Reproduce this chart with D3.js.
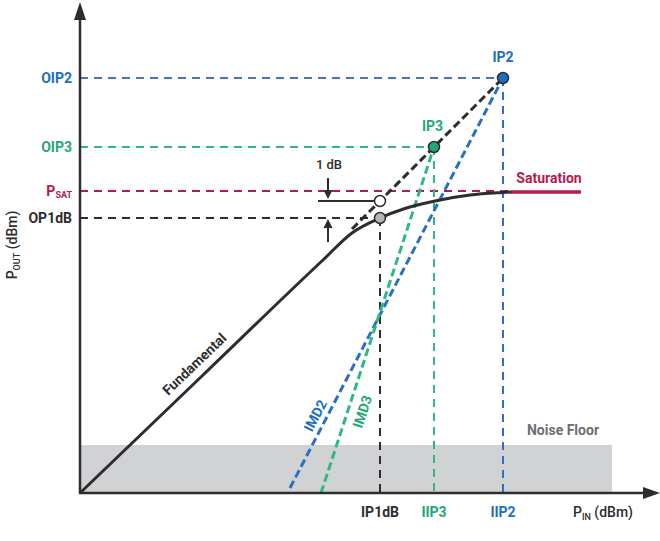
<!DOCTYPE html>
<html>
<head>
<meta charset="utf-8">
<script src="https://cdn.jsdelivr.net/npm/d3@7"></script>
<style>
  body { margin: 0; background: #fff; }
  svg { display: block; font-family: Roboto, "Liberation Sans", sans-serif; }
</style>
</head>
<body>
<div id="chart"></div>
<script>
// Values are relative dB (origin = lower left corner)
var fundamental = [[0, 0], [12.2, 11.7], [24.3, 23.3], [27.2, 26.0], [30.0, 27.5], [32.5, 28.45],
                   [35.5, 29.2], [39.0, 29.8], [42.3, 30.05], [43.2, 30.1]];
var saturation = [[43.1, 30.1], [50.1, 30.1]];
var gainExtension = [[27.2, 26.4], [42.3, 41.5]];
var imd2 = [[21.0, 0.5], [42.3, 41.5]];
var imd3 = [[24.1, 0.0], [35.4, 34.6]];
var noiseFloor = [0, 53.2, 4.8];          // from, to, level

var yTickNames = ["OIP2", "OIP3", "P|SAT", "OP1dB"];
var yTickValues = [41.5, 34.6, 30.2, 27.5];
var yTickEnds = [42.3, 35.4, 43.1, 30.0];  // where the dashed level line stops
var xTickNames = ["IP1dB", "IIP3", "IIP2"];
var xTickValues = [30.0, 35.4, 42.3];
var xTickTops = [27.5, 34.6, 41.5];

var intercepts = [{name: "IP2", x: 42.3, y: 41.5}, {name: "IP3", x: 35.4, y: 34.6}];
var p1dB = {x: 30.0, linear: 29.2, compressed: 27.5};

var dark = "#2d2d2f", blue = "#1a6fc0", blueLine = "#2a70c4", blueLevel = "#4a74c2",
    green = "#1ea878", greenLine = "#2db886", red = "#b21b4b", grey = "#6d6e71";
var tickColors = [blue, green, red, dark];
var tickLineColors = [blueLevel, greenLine, red, dark];
var xTickColors = [dark, green, blue];
var xTickLineColors = [dark, greenLine, blueLine];

var width = 660, height = 541;
var x = d3.scaleLinear().domain([0, 58]).range([80, 660]);
var y = d3.scaleLinear().domain([0, 49]).range([493, 3]);
var line = d3.line().x(function (d) { return x(d[0]); }).y(function (d) { return y(d[1]); });

var svg = d3.select("#chart").append("svg")
    .attr("width", width)
    .attr("height", height);

// Noise floor
svg.append("rect")
    .attr("x", x(noiseFloor[0]))
    .attr("y", y(noiseFloor[2]))
    .attr("width", x(noiseFloor[1]) - x(noiseFloor[0]))
    .attr("height", y(0) - y(noiseFloor[2]))
    .attr("fill", "#d1d2d4");
svg.append("text")
    .attr("x", x(48.3)).attr("y", y(6.3))
    .attr("text-anchor", "middle")
    .attr("dominant-baseline", "central")
    .attr("font-size", 14).attr("font-weight", 700)
    .attr("fill", grey)
    .text("Noise Floor");

// Level lines (horizontal) and input lines (vertical)
yTickValues.forEach(function (v, i) {
    svg.append("line")
        .attr("x1", x(0)).attr("x2", x(yTickEnds[i]))
        .attr("y1", y(v)).attr("y2", y(v))
        .attr("stroke", tickLineColors[i]).attr("stroke-width", 2)
        .attr("stroke-dasharray", "8,6");
});
xTickValues.forEach(function (v, i) {
    svg.append("line")
        .attr("x1", x(v)).attr("x2", x(v))
        .attr("y1", y(xTickTops[i])).attr("y2", y(0))
        .attr("stroke", xTickLineColors[i]).attr("stroke-width", 2)
        .attr("stroke-dasharray", "8,6");
});

// Intermod products and extrapolated gain
svg.append("path").datum(imd2).attr("d", line)
    .attr("fill", "none").attr("stroke", blueLine).attr("stroke-width", 3)
    .attr("stroke-dasharray", "8,4");
svg.append("path").datum(imd3).attr("d", line)
    .attr("fill", "none").attr("stroke", greenLine).attr("stroke-width", 3)
    .attr("stroke-dasharray", "8,4");
svg.append("path").datum(gainExtension).attr("d", line)
    .attr("fill", "none").attr("stroke", dark).attr("stroke-width", 3)
    .attr("stroke-dasharray", "8,4");

// Fundamental and saturation
svg.append("path").datum(fundamental).attr("d", line.curve(d3.curveMonotoneX))
    .attr("fill", "none").attr("stroke", dark).attr("stroke-width", 3);
line.curve(d3.curveLinear);
svg.append("path").datum(saturation).attr("d", line)
    .attr("fill", "none").attr("stroke", red).attr("stroke-width", 3.5);

// Axes with arrow heads
svg.append("line")
    .attr("x1", x(0)).attr("x2", x(0)).attr("y1", y(0) + 1).attr("y2", y(47.3))
    .attr("stroke", dark).attr("stroke-width", 2.5);
svg.append("line")
    .attr("x1", x(0) - 1).attr("x2", x(56.4)).attr("y1", y(0)).attr("y2", y(0))
    .attr("stroke", dark).attr("stroke-width", 2.5);
svg.append("path")
    .attr("d", "M" + x(0) + "," + (y(49) - 1) + "L" + (x(0) + 6) + "," + (y(49) + 17) +
               "L" + (x(0) - 6) + "," + (y(49) + 17) + "Z")
    .attr("fill", dark);
svg.append("path")
    .attr("d", "M" + x(58) + "," + y(0) + "L" + (x(58) - 17) + "," + (y(0) - 6) +
               "L" + (x(58) - 17) + "," + (y(0) + 6) + "Z")
    .attr("fill", dark);

// 1 dB compression marker
var ax = x(24.8);
svg.append("line")
    .attr("x1", x(23.8)).attr("x2", x(p1dB.x)).attr("y1", y(p1dB.linear)).attr("y2", y(p1dB.linear))
    .attr("stroke", dark).attr("stroke-width", 2);
svg.append("line")
    .attr("x1", ax).attr("x2", ax).attr("y1", y(p1dB.linear) - 23).attr("y2", y(p1dB.linear) - 8)
    .attr("stroke", dark).attr("stroke-width", 2);
svg.append("path")
    .attr("d", "M" + ax + "," + (y(p1dB.linear) - 2) + "L" + (ax - 4.5) + "," + (y(p1dB.linear) - 11) +
               "L" + (ax + 4.5) + "," + (y(p1dB.linear) - 11) + "Z")
    .attr("fill", dark);
svg.append("line")
    .attr("x1", ax).attr("x2", ax).attr("y1", y(p1dB.compressed) + 8).attr("y2", y(p1dB.compressed) + 24)
    .attr("stroke", dark).attr("stroke-width", 2);
svg.append("path")
    .attr("d", "M" + ax + "," + (y(p1dB.compressed) + 1) + "L" + (ax - 4.5) + "," + (y(p1dB.compressed) + 10) +
               "L" + (ax + 4.5) + "," + (y(p1dB.compressed) + 10) + "Z")
    .attr("fill", dark);
svg.append("text")
    .attr("x", ax + 1).attr("y", y(p1dB.linear) - 37)
    .attr("text-anchor", "middle").attr("dominant-baseline", "central")
    .attr("font-size", 13).attr("font-weight", 500).attr("fill", dark)
    .text("1 dB");

svg.append("circle")
    .attr("cx", x(p1dB.x)).attr("cy", y(p1dB.linear)).attr("r", 5.5)
    .attr("fill", "#fff").attr("stroke", dark).attr("stroke-width", 1.5);
svg.append("circle")
    .attr("cx", x(p1dB.x)).attr("cy", y(p1dB.compressed)).attr("r", 5.5)
    .attr("fill", "#b5b5b7").attr("stroke", dark).attr("stroke-width", 1.5);

// Intercept points
var ipFill = [blue, green], ipColor = [blue, green];
intercepts.forEach(function (d, i) {
    svg.append("circle")
        .attr("cx", x(d.x)).attr("cy", y(d.y)).attr("r", 5.5)
        .attr("fill", ipFill[i]).attr("stroke", dark).attr("stroke-width", 1.5);
    svg.append("text")
        .attr("x", x(d.x) - (i ? 1.5 : 0)).attr("y", y(d.y) - 21)
        .attr("text-anchor", "middle").attr("dominant-baseline", "central")
        .attr("font-size", 14).attr("font-weight", 700).attr("fill", ipColor[i])
        .text(d.name);
});

svg.append("text")
    .attr("x", x(46.9)).attr("y", y(31.5))
    .attr("text-anchor", "middle").attr("dominant-baseline", "central")
    .attr("font-size", 14).attr("font-weight", 700).attr("fill", red)
    .text("Saturation");

// Y tick labels
yTickNames.forEach(function (name, i) {
    var t = svg.append("text")
        .attr("x", x(0) - 8).attr("y", y(yTickValues[i]))
        .attr("text-anchor", "end").attr("dominant-baseline", "central")
        .attr("font-size", 14).attr("font-weight", 700).attr("fill", tickColors[i]);
    var parts = name.split("|");
    t.append("tspan").text(parts[0]);
    if (parts[1]) t.append("tspan").attr("font-size", 9).attr("dy", 4).text(parts[1]);
});

// X tick labels
xTickNames.forEach(function (name, i) {
    svg.append("text")
        .attr("x", x(xTickValues[i])).attr("y", 517)
        .attr("text-anchor", "middle")
        .attr("font-size", 14).attr("font-weight", 700).attr("fill", xTickColors[i])
        .text(name);
});

// Axis titles
var xt = svg.append("text")
    .attr("x", x(49.3)).attr("y", 517)
    .attr("font-size", 14).attr("font-weight", 500).attr("fill", dark);
xt.append("tspan").text("P");
xt.append("tspan").attr("font-size", 9).attr("dy", 3).text("IN");
xt.append("tspan").attr("dy", -3).text(" (dBm)");

var yt = svg.append("text")
    .attr("transform", "translate(17," + 245 + ") rotate(-90)")
    .attr("text-anchor", "middle")
    .attr("font-size", 14).attr("font-weight", 500).attr("fill", dark);
yt.append("tspan").text("P");
yt.append("tspan").attr("font-size", 9).attr("dy", 3).text("OUT");
yt.append("tspan").attr("dy", -3).text(" (dBm)");

// Line labels along the slopes
function slopeLabel(pts, at, offset, text, color) {
    var p0 = [x(pts[0][0]), y(pts[0][1])], p1 = [x(pts[1][0]), y(pts[1][1])];
    var t = (at - pts[0][0]) / (pts[1][0] - pts[0][0]);
    var px = p0[0] + t * (p1[0] - p0[0]), py = p0[1] + t * (p1[1] - p0[1]);
    var ang = Math.atan2(p1[1] - p0[1], p1[0] - p0[0]) * 180 / Math.PI;
    svg.append("text")
        .attr("transform", "translate(" + px + "," + py + ") rotate(" + ang + ") translate(0," + offset + ")")
        .attr("text-anchor", "middle").attr("dominant-baseline", "central")
        .attr("font-size", 14).attr("font-weight", 700).attr("fill", color)
        .text(text);
}
slopeLabel([fundamental[0], fundamental[2]], 12.4, -14, "Fundamental", dark);
slopeLabel(imd2, 24.5, -11, "IMD2", blue);
slopeLabel(imd3, 26.9, 14, "IMD3", green);
</script>
</body>
</html>
